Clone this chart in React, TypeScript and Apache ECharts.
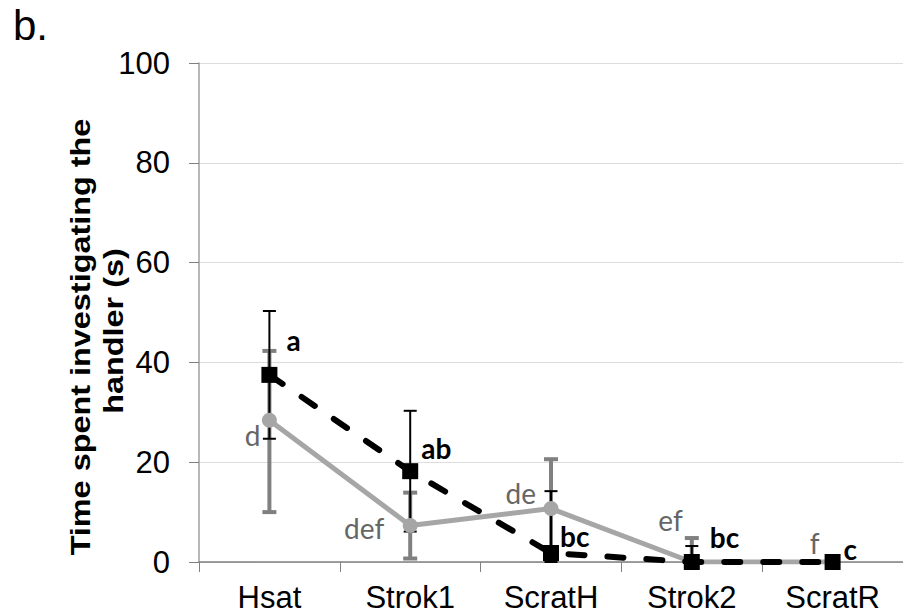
import React, { useEffect, useRef } from "react";
import * as echarts from "echarts";

const categories = ["Hsat", "Strok1", "ScratH", "Strok2", "ScratR"];
const yTicks = [0, 20, 40, 60, 80, 100];
const yTitleLines = ["Time spent investigating the", "handler (s)"];

// black dashed series (squares)
const blackValues = [37.5, 18.2, 1.8, 0, 0];
const blackLow = [24.7, 6.1, 0, 0, 0];
const blackHigh = [50.3, 30.3, 14.2, 3.2, 0];
const blackLetters = ["a", "ab", "bc", "bc", "c"];

// gray solid series (circles)
const grayValues = [28.4, 7.3, 10.7, 0, 0];
const grayLow = [10.0, 0.7, 0.7, 0, 0];
const grayHigh = [42.3, 13.9, 20.6, 4.8, 0];
const grayLetters = ["d", "def", "de", "ef", "f"];

// label layout (pixel offsets from the point) – styling, not data
const blackLabelOffset = [[17, -35], [11, -23], [9, -17], [18, -25], [11, -13]];
const grayLabelOffset = [[-9, 15], [-26, 2], [-15, -16], [-9, -42], [-13, -19]];

const BLACK = "#000000";
const GRAY_LINE = "#a6a6a6";
const GRAY_ERR = "#808080";
const GRAY_TEXT = "#666666";
const ARIAL = "'Liberation Sans', Arial, sans-serif";

function errorSeries(low: number[], high: number[], color: string, lw: number, cap: number, z: number) {
  return {
    type: "custom",
    z,
    silent: true,
    data: categories.map((_, i) => [i, low[i], high[i]]),
    renderItem: (params: any, api: any) => {
      const lo = api.value(1);
      const hi = api.value(2);
      if (hi - lo <= 0) return null;
      const p1 = api.coord([api.value(0), hi]);
      const p2 = api.coord([api.value(0), lo]);
      const style = { stroke: color, lineWidth: lw };
      return {
        type: "group",
        children: [
          { type: "line", shape: { x1: p1[0], y1: p1[1], x2: p2[0], y2: p2[1] }, style },
          { type: "line", shape: { x1: p1[0] - cap / 2, y1: p1[1], x2: p1[0] + cap / 2, y2: p1[1] }, style },
          { type: "line", shape: { x1: p2[0] - cap / 2, y1: p2[1], x2: p2[0] + cap / 2, y2: p2[1] }, style },
        ],
      };
    },
  };
}

function letterSeries(values: number[], letters: string[], offsets: number[][], color: string, bold: boolean, align: string) {
  return {
    type: "custom",
    z: 20,
    silent: true,
    data: categories.map((_, i) => [i, values[i]]),
    renderItem: (params: any, api: any) => {
      const i = params.dataIndex;
      const p = api.coord([api.value(0), api.value(1)]);
      return {
        type: "text",
        x: p[0] + offsets[i][0],
        y: p[1] + offsets[i][1],
        style: {
          text: letters[i],
          fill: color,
          font: `${bold ? "bold " : ""}28px Lato, 'Noto Sans', sans-serif`,
          align,
          verticalAlign: "middle",
        },
      };
    },
  };
}

export default function App() {
  const ref = useRef<HTMLDivElement>(null);
  useEffect(() => {
    if (!ref.current) return;
    const chart = echarts.init(ref.current, undefined, { renderer: "svg" });
    chart.setOption({
      animation: false,
      backgroundColor: "#ffffff",
      grid: { left: 199, top: 63, bottom: 53, right: 0 },
      graphic: [
        {
          type: "text",
          left: 13,
          top: 4,
          style: { text: "b.", font: `42px ${ARIAL}`, fill: "#000" },
        },
        {
          type: "text",
          x: 80,
          y: 337,
          rotation: Math.PI / 2,
          scaleX: 1.2,
          style: {
            text: yTitleLines[0],
            font: `bold 27px ${ARIAL}`,
            fill: "#000",
            align: "center",
            verticalAlign: "middle",
          },
        },
        {
          type: "text",
          x: 113,
          y: 331,
          rotation: Math.PI / 2,
          scaleX: 1.2,
          style: {
            text: yTitleLines[1],
            font: `bold 27px ${ARIAL}`,
            fill: "#000",
            align: "center",
            verticalAlign: "middle",
          },
        },
      ],
      xAxis: {
        type: "category",
        data: categories,
        boundaryGap: true,
        axisLine: { lineStyle: { color: "#808080", width: 1.5 } },
        axisTick: { show: true, length: 10, lineStyle: { color: "#808080" } },
        axisLabel: {
          color: "#000",
          fontSize: 31,
          fontFamily: ARIAL,
          margin: 20,
        },
      },
      yAxis: {
        type: "value",
        min: 0,
        max: 100,
        interval: 20,
        axisLine: { show: true, lineStyle: { color: "#a0a0a0", width: 1.5 } },
        axisTick: { show: true, length: 10, lineStyle: { color: "#808080" } },
        splitLine: { show: true, lineStyle: { color: "#dcdcdc", width: 1 } },
        axisLabel: {
          color: "#000",
          fontSize: 31,
          fontFamily: ARIAL,
          margin: 29,
          formatter: (v: number) => (yTicks.includes(v) ? String(v) : ""),
        },
      },
      series: [
        errorSeries(grayLow, grayHigh, GRAY_ERR, 4, 14, 2),
        errorSeries(blackLow, blackHigh, BLACK, 2, 13, 3),
        {
          type: "line",
          z: 4,
          data: grayValues,
          symbol: "circle",
          symbolSize: 15,
          itemStyle: { color: GRAY_LINE },
          lineStyle: { color: GRAY_LINE, width: 5 },
        },
        {
          type: "line",
          z: 5,
          data: blackValues,
          symbol: "rect",
          symbolSize: 16,
          itemStyle: { color: BLACK },
          lineStyle: { color: BLACK, width: 6, type: [16, 23], cap: "round" },
        },
        letterSeries(blackValues, blackLetters, blackLabelOffset, BLACK, true, "left"),
        letterSeries(grayValues, grayLetters, grayLabelOffset, GRAY_TEXT, false, "right"),
      ],
    });
    return () => chart.dispose();
  }, []);
  return <div ref={ref} style={{ width: 903, height: 615, position: "absolute", left: 0, top: 0 }} />;
}
